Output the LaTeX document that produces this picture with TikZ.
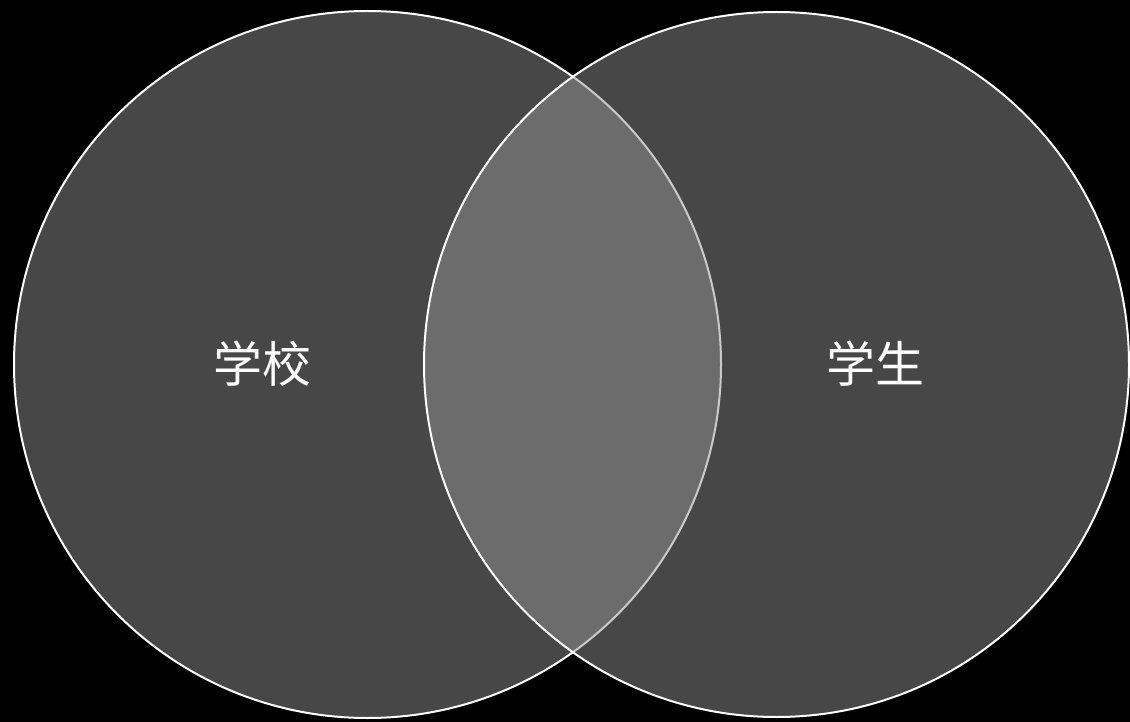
\documentclass[tikz,border=0pt]{standalone}
\usepackage{fontspec}
\usepackage{tikz}
\usetikzlibrary{positioning}
\newfontfamily\cjk{Noto Sans CJK SC}
\definecolor{SetFill}{HTML}{949494}
\definecolor{SetEdge}{HTML}{FFFFFF}
\definecolor{PageBlack}{HTML}{000000}

\begin{document}
\begin{tikzpicture}[x=1pt, y=-1pt,
    setcircle/.style={draw=SetEdge, line width=2pt, fill=SetFill, fill opacity=0.486, draw opacity=1},
    setlabel/.style={text=white, font=\cjk\fontsize{49}{58}\selectfont, inner sep=0pt}]
    \fill[PageBlack] (0,0) rectangle (1130,722);
    \useasboundingbox (0,0) rectangle (1130,722);

    \coordinate (school) at (367.5,364.5);
    \coordinate (student) at (776.5,364.5);
    \draw[setcircle] (school) circle (353.5);
    \draw[setcircle] (student) circle (352.5);

    \node[setlabel] (schoolLabel) at (262,364) {学校};
    \node[setlabel] (studentLabel) at (875,364) {学生};
\end{tikzpicture}
\end{document}
